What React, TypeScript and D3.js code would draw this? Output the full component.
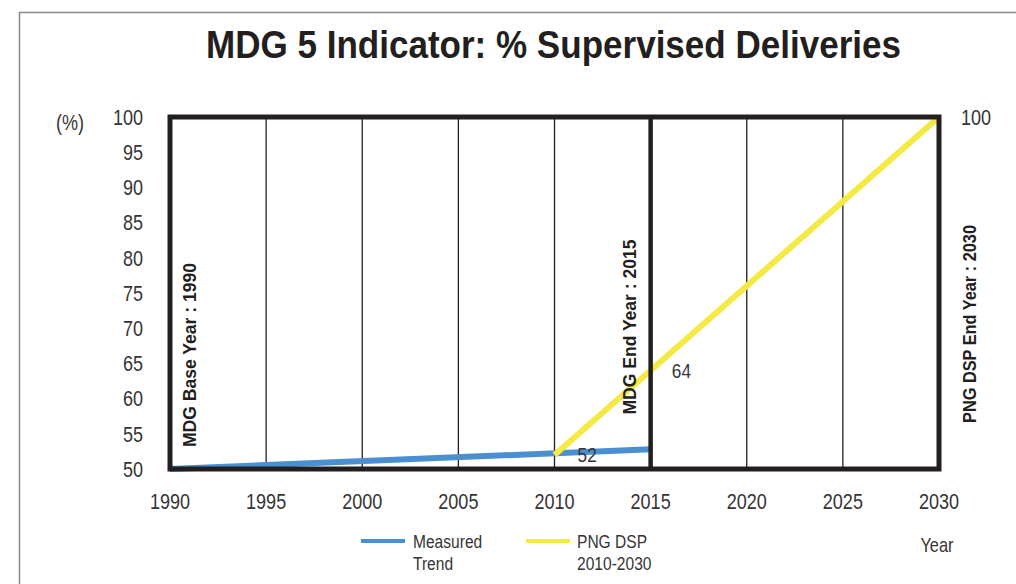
import React from "react";
import * as d3 from "d3";

const xTicks = [1990, 1995, 2000, 2005, 2010, 2015, 2020, 2025, 2030];
const yTicks = [50, 55, 60, 65, 70, 75, 80, 85, 90, 95, 100];
const measuredYears = [1990, 2015];
const measuredValues = [50, 52.8];
const planYears = [2010, 2030];
const planValues = [52, 100];
const markerLabels = ["MDG Base Year : 1990", "MDG End Year : 2015", "PNG DSP End Year : 2030"];
const markerYears = [1990, 2015, 2030];
const valueLabels = [
  { year: 2011.7, value: 52, text: "52" },
  { year: 2016.6, value: 64, text: "64" },
];

const W = 1016;
const H = 584;
const FONT = "'Liberation Sans', Arial, sans-serif";
const BLUE = "#4a8fd0";
const YELLOW = "#f5ea45";
const DARK = "#231f20";
const GREY = "#363435";
const SX = 0.82;

function NText(props: {
  x: number;
  y: number;
  size: number;
  anchor?: string;
  children: React.ReactNode;
  weight?: string;
  fill?: string;
}) {
  return (
    <text
      transform={`translate(${props.x},${props.y}) scale(${SX},1)`}
      textAnchor={props.anchor || "middle"}
      dy="0.35em"
      fontSize={props.size}
      fontWeight={props.weight || "normal"}
      fill={props.fill || GREY}
    >
      {props.children}
    </text>
  );
}

export default function App() {
  const x = d3.scaleLinear().domain([1990, 2030]).range([170, 939]);
  const y = d3.scaleLinear().domain([50, 100]).range([469, 117]);
  const line = d3
    .line<[number, number]>()
    .x((d) => x(d[0]))
    .y((d) => y(d[1]));
  const measured = measuredYears.map((yr, i) => [yr, measuredValues[i]] as [number, number]);
  const plan = planYears.map((yr, i) => [yr, planValues[i]] as [number, number]);

  const markerPos = [
    { cx: x(markerYears[0]) + 20, cy: 355, len: 184 },
    { cx: x(markerYears[1]) - 21, cy: 327, len: 175 },
    { cx: x(markerYears[2]) + 31, cy: 324, len: 198 },
  ];

  return (
    <svg
      width={W}
      height={H}
      style={{ position: "absolute", left: 0, top: 0, background: "#fff" }}
      fontFamily={FONT}
    >
      <rect x={0} y={0} width={W} height={H} fill="#fff" />
      {/* outer frame */}
      <line x1={19} y1={12.5} x2={W} y2={12.5} stroke="#888" strokeWidth={1.5} />
      <line x1={19.5} y1={12} x2={19.5} y2={H} stroke="#888" strokeWidth={1.5} />

      <text
        x={206}
        y={58}
        textLength={695}
        lengthAdjust="spacingAndGlyphs"
        fontSize={39}
        fontWeight="bold"
        fill={DARK}
      >
        MDG 5 Indicator: % Supervised Deliveries
      </text>

      {/* inner gridlines */}
      {xTicks
        .filter((t) => !markerYears.includes(t))
        .map((t) => (
          <line key={t} x1={x(t)} x2={x(t)} y1={y(100)} y2={y(50)} stroke={DARK} strokeWidth={1.3} />
        ))}

      {/* data lines */}
      <path d={line(measured) || ""} fill="none" stroke={BLUE} strokeWidth={6} />
      <path d={line(plan) || ""} fill="none" stroke={YELLOW} strokeWidth={6} />

      {/* thick frame & 2015 line */}
      <rect
        x={x(1990)}
        y={y(100)}
        width={x(2030) - x(1990)}
        height={y(50) - y(100)}
        fill="none"
        stroke={DARK}
        strokeWidth={5}
      />
      <line x1={x(2015)} x2={x(2015)} y1={y(100)} y2={y(50) + 2} stroke={DARK} strokeWidth={4.5} />

      {/* y axis ticks */}
      {yTicks.map((t) => (
        <NText key={t} x={143} y={y(t)} size={22} anchor="end">
          {t}
        </NText>
      ))}
      <NText x={x(2030) + 22} y={y(100)} size={22} anchor="start">
        100
      </NText>
      <NText x={70} y={y(100) + 5} size={22}>
        (%)
      </NText>

      {/* x axis ticks */}
      {xTicks.map((t) => (
        <NText key={t} x={x(t)} y={501} size={22}>
          {t}
        </NText>
      ))}
      <NText x={937} y={545} size={20}>
        Year
      </NText>

      {/* marker labels */}
      {markerLabels.map((label, i) => (
        <text
          key={label}
          transform={`translate(${markerPos[i].cx},${markerPos[i].cy}) rotate(-90)`}
          textAnchor="middle"
          dy="0.35em"
          fontSize={18}
          fontWeight="bold"
          fill={DARK}
          textLength={markerPos[i].len}
          lengthAdjust="spacingAndGlyphs"
        >
          {label}
        </text>
      ))}

      {/* value labels */}
      {valueLabels.map((v) => (
        <NText key={v.text} x={x(v.year)} y={y(v.value)} size={21}>
          {v.text}
        </NText>
      ))}

      {/* legend */}
      <line x1={361} x2={405} y1={541} y2={541} stroke={BLUE} strokeWidth={4} />
      <NText x={413} y={541} size={19} anchor="start">Measured</NText>
      <NText x={413} y={563} size={19} anchor="start">Trend</NText>
      <line x1={526} x2={570} y1={541} y2={541} stroke={YELLOW} strokeWidth={4} />
      <NText x={577} y={541} size={19} anchor="start">PNG DSP</NText>
      <NText x={577} y={563} size={19} anchor="start">2010-2030</NText>
    </svg>
  );
}
